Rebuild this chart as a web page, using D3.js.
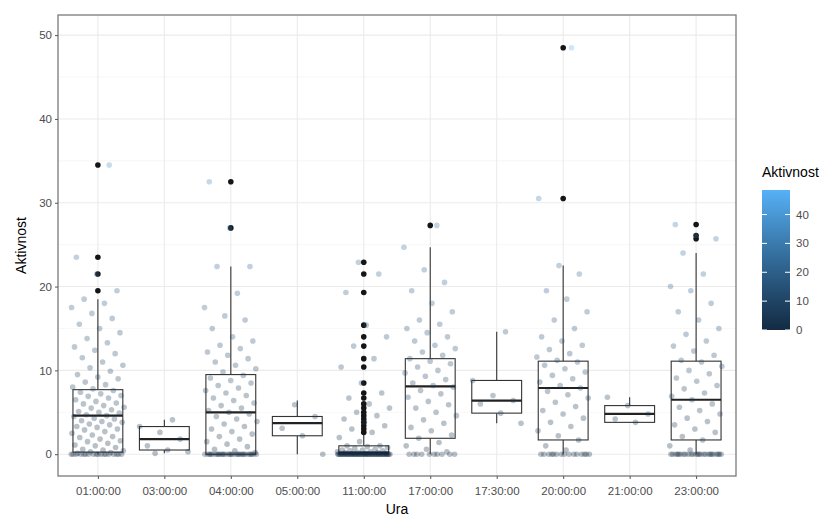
<!DOCTYPE html>
<html>
<head>
<meta charset="utf-8">
<script src="https://cdn.jsdelivr.net/npm/d3@7"></script>
<style>
  body { margin: 0; background: #fff; }
  text { font-family: "Liberation Sans", Arial, sans-serif; }
</style>
</head>
<body>
<div id="box-chart"></div>
<script>
// categories on the x axis
const categories = ["01:00:00", "03:00:00", "04:00:00", "05:00:00", "11:00:00",
                    "17:00:00", "17:30:00", "20:00:00", "21:00:00", "23:00:00"];

// box statistics
const lowerWhisker = [0, 0.1, 0, 0, 0, 0, 3.7, 0, 3.8, 0];
const q1 = [0.25, 0.5, 0, 2.2, 0, 1.9, 4.9, 1.7, 3.8, 1.7];
const medians = [4.6, 1.8, 5.0, 3.7, 0.2, 8.1, 6.4, 7.9, 4.8, 6.5];
const q3 = [7.7, 3.3, 9.5, 4.5, 1.0, 11.4, 8.8, 11.1, 5.8, 11.1];
const upperWhisker = [18.5, 4.1, 22.4, 6.4, 2.4, 24.7, 14.6, 22.5, 6.8, 24.0];

const outliers = [
  [19.5, 21.5, 23.5, 34.5],
  [],
  [27.0, 32.5],
  [],
  [2.6, 3.0, 3.4, 3.8, 4.2, 4.6, 5.0, 5.5, 6.0, 6.7, 7.3, 8.5, 10.4, 11.4, 12.9, 14.0, 15.4, 19.3, 21.5, 22.9],
  [27.3],
  [],
  [30.5, 48.5],
  [],
  [25.7, 26.1, 27.4]
];

// raw observations (jittered layer): count of zero values + the other values
const zeroCounts = [18, 0, 28, 0, 55, 10, 0, 15, 0, 25];
const observations = [
  [0.1, 0.2, 0.3, 0.4, 0.5, 0.6, 0.8, 1.0, 1.1, 1.3, 1.5, 1.6, 1.8, 2.0, 2.1, 2.3, 2.5, 2.7, 2.9, 3.0,
   3.2, 3.3, 3.5, 3.6, 3.8, 3.9, 4.0, 4.2, 4.3, 4.5, 4.6, 4.7, 4.9, 5.0, 5.1, 5.3, 5.5, 5.6, 5.8, 6.0,
   6.1, 6.3, 6.5, 6.7, 6.9, 7.0, 7.2, 7.4, 7.6, 7.8, 8.0, 8.3, 8.6, 9.0, 9.2, 9.5, 9.9, 10.3, 10.6, 11.0,
   11.5, 12.0, 12.4, 12.8, 13.3, 13.8, 14.5, 15.0, 15.5, 16.2, 16.8, 17.5, 18.0, 18.5, 19.5, 21.5, 23.5, 34.5],
  [0.1, 0.3, 0.5, 1.0, 1.8, 2.6, 3.3, 4.1],
  [0.2, 0.4, 0.6, 0.9, 1.2, 1.5, 1.8, 2.1, 2.4, 2.7, 3.0, 3.3, 3.6, 3.9, 4.2, 4.5, 4.8, 5.0, 5.2, 5.5,
   5.8, 6.1, 6.4, 6.7, 7.0, 7.3, 7.6, 7.9, 8.2, 8.5, 8.8, 9.1, 9.4, 9.8, 10.2, 10.6, 11.0, 11.4, 11.8, 12.2,
   12.6, 13.0, 13.5, 14.0, 15.0, 16.0, 16.5, 17.5, 19.2, 22.4, 22.4, 27.0, 32.5],
  [0, 2.2, 3.1, 4.5, 5.9],
  [0.1, 0.1, 0.1, 0.2, 0.2, 0.2, 0.3, 0.3, 0.4, 0.4, 0.5, 0.5, 0.6, 0.7, 0.8, 0.9, 1.0, 1.0, 1.5, 2.0,
   2.6, 3.0, 3.4, 3.8, 4.2, 4.6, 5.0, 5.5, 6.0, 6.7, 7.3, 8.5, 10.4, 11.4, 12.9, 14.0, 15.4, 19.3, 21.5, 22.9],
  [0.3, 0.6, 1.0, 1.4, 1.9, 2.3, 2.8, 3.2, 3.7, 4.1, 4.6, 5.0, 5.5, 5.9, 6.3, 6.8, 7.2, 7.6, 8.0, 8.2,
   8.5, 8.9, 9.3, 9.7, 10.0, 10.4, 10.8, 11.1, 11.4, 11.8, 12.2, 12.6, 13.0, 13.5, 14.0, 14.5, 15.0, 15.5, 16.0, 17.0,
   18.0, 19.5, 20.5, 22.0, 24.7, 27.3],
  [3.7, 4.9, 6.0, 6.4, 7.0, 8.8, 14.6],
  [0.5, 1.0, 1.7, 2.2, 2.8, 3.3, 3.8, 4.3, 4.8, 5.2, 5.7, 6.2, 6.7, 7.1, 7.5, 7.9, 8.2, 8.6, 9.0, 9.4,
   9.8, 10.2, 10.6, 11.0, 11.2, 11.6, 12.0, 12.5, 13.0, 13.5, 14.0, 15.0, 16.0, 17.0, 18.5, 19.5, 21.5, 22.5, 30.5, 48.5],
  [3.8, 4.2, 4.8, 5.8, 6.8],
  [0.5, 1.0, 1.7, 2.1, 2.6, 3.0, 3.5, 3.9, 4.3, 4.8, 5.2, 5.6, 6.0, 6.5, 6.9, 7.3, 7.8, 8.2, 8.7, 9.1,
   9.6, 10.0, 10.5, 11.0, 11.2, 11.8, 12.3, 12.9, 13.5, 14.3, 15.0, 16.0, 17.0, 18.0, 19.5, 20.0, 21.5, 24.0, 25.7, 26.1, 27.4]
];

const yTicks = [0, 10, 20, 30, 40, 50];
const legendTicks = [0, 10, 20, 30, 40];

(function boxplot() {
  let height = 518,
      width = 833,
      margin = ({ top: 15, right: 97, bottom: 42, left: 58 });

  const svg = d3.select("#box-chart")
      .append("svg")
      .attr("width", width)
      .attr("height", height);

  const x = d3.scalePoint()
      .domain(categories)
      .range([margin.left, width - margin.right])
      .padding(0.6);

  const y = d3.scaleLinear()
      .domain([-2.6, 52.4])
      .range([height - margin.bottom, margin.top]);

  const step = x.step();
  const boxW = step * 0.75;

  const colour = d3.scaleLinear()
      .domain([0, 48.5])
      .range(["#132B43", "#56B1F7"])
      .interpolate(d3.interpolateLab);

  // grid
  const grid = svg.append("g");
  grid.selectAll(".minor")
    .data([5, 15, 25, 35, 45])
    .join("line")
      .attr("x1", margin.left).attr("x2", width - margin.right)
      .attr("y1", d => y(d)).attr("y2", d => y(d))
      .attr("stroke", "#f2f2f2").attr("stroke-width", 0.6);
  grid.selectAll(".major-y")
    .data(yTicks)
    .join("line")
      .attr("x1", margin.left).attr("x2", width - margin.right)
      .attr("y1", d => y(d)).attr("y2", d => y(d))
      .attr("stroke", "#ebebeb").attr("stroke-width", 1.1);
  grid.selectAll(".major-x")
    .data(categories)
    .join("line")
      .attr("x1", d => x(d)).attr("x2", d => x(d))
      .attr("y1", margin.top).attr("y2", height - margin.bottom)
      .attr("stroke", "#ebebeb").attr("stroke-width", 1.1);

  // boxes
  const boxes = svg.append("g")
    .selectAll("g")
    .data(categories)
    .join("g")
      .attr("transform", d => `translate(${x(d)},0)`);

  boxes.append("line")
      .attr("y1", (d, i) => y(upperWhisker[i])).attr("y2", (d, i) => y(q3[i]))
      .attr("stroke", "#333").attr("stroke-width", 1.1);
  boxes.append("line")
      .attr("y1", (d, i) => y(q1[i])).attr("y2", (d, i) => y(lowerWhisker[i]))
      .attr("stroke", "#333").attr("stroke-width", 1.1);
  boxes.append("rect")
      .attr("x", -boxW / 2).attr("width", boxW)
      .attr("y", (d, i) => y(q3[i]))
      .attr("height", (d, i) => y(q1[i]) - y(q3[i]))
      .attr("fill", "#fff").attr("stroke", "#333").attr("stroke-width", 1.1);
  boxes.append("line")
      .attr("x1", -boxW / 2).attr("x2", boxW / 2)
      .attr("y1", (d, i) => y(medians[i])).attr("y2", (d, i) => y(medians[i]))
      .attr("stroke", "#222").attr("stroke-width", 2.2);
  boxes.selectAll(".outlier")
    .data((d, i) => outliers[i])
    .join("circle")
      .attr("class", "outlier")
      .attr("cy", v => y(v))
      .attr("r", 2.8)
      .attr("fill", "#151515");

  // jittered observations
  const points = [];
  categories.forEach((c, i) => {
    const vals = d3.range(zeroCounts[i]).map(() => 0).concat(observations[i]);
    vals.forEach((v, k) => points.push({ cat: c, value: v, k: k + i * 7 }));
  });

  svg.append("g")
    .selectAll("circle")
    .data(points)
    .join("circle")
      .attr("cx", d => x(d.cat) + (((d.k * 0.618034) % 1) - 0.5) * 0.8 * step)
      .attr("cy", d => y(d.value))
      .attr("r", 2.8)
      .attr("fill", d => colour(d.value))
      .attr("fill-opacity", 0.3);

  // panel border
  svg.append("rect")
      .attr("x", margin.left).attr("y", margin.top)
      .attr("width", width - margin.left - margin.right)
      .attr("height", height - margin.top - margin.bottom)
      .attr("fill", "none").attr("stroke", "#7a7a7a").attr("stroke-width", 1.3);

  // axes
  const yAxis = svg.append("g")
      .attr("transform", `translate(${margin.left},0)`)
      .call(d3.axisLeft(y).tickValues(yTicks).tickSize(3).tickPadding(3));
  const xAxis = svg.append("g")
      .attr("transform", `translate(0,${height - margin.bottom})`)
      .call(d3.axisBottom(x).tickSize(3).tickPadding(8));
  [yAxis, xAxis].forEach(a => {
    a.select(".domain").remove();
    a.selectAll("line").attr("stroke", "#555");
    a.selectAll("text").attr("fill", "#4d4d4d").style("font-size", "11.5px")
      .style("font-family", "'Liberation Sans', Arial, sans-serif");
  });

  svg.append("text")
      .attr("x", (margin.left + width - margin.right) / 2)
      .attr("y", 514)
      .attr("text-anchor", "middle")
      .style("font-size", "14px")
      .text("Ura");

  svg.append("text")
      .attr("transform", `translate(26,${(margin.top + height - margin.bottom) / 2}) rotate(-90)`)
      .attr("text-anchor", "middle")
      .style("font-size", "14px")
      .text("Aktivnost");

  // colour bar legend
  const lg = svg.append("g");
  const ly = d3.scaleLinear().domain([0, 48.5]).range([330, 190]);
  const grad = svg.append("defs").append("linearGradient")
      .attr("id", "grad")
      .attr("x1", 0).attr("x2", 0).attr("y1", 1).attr("y2", 0);
  grad.selectAll("stop")
    .data(d3.range(0, 1.01, 0.1))
    .join("stop")
      .attr("offset", t => t)
      .attr("stop-color", t => colour(t * 48.5));

  lg.append("text")
      .attr("x", 762).attr("y", 177)
      .style("font-size", "14px")
      .text("Aktivnost");
  lg.append("rect")
      .attr("x", 762).attr("y", ly(48.5))
      .attr("width", 28).attr("height", ly(0) - ly(48.5))
      .attr("fill", "url(#grad)");
  lg.selectAll(".tl")
    .data(legendTicks)
    .join("path")
      .attr("d", d => `M762,${ly(d)}h5M785,${ly(d)}h5`)
      .attr("stroke", "#fff").attr("stroke-width", 1);
  lg.selectAll(".lab")
    .data(legendTicks)
    .join("text")
      .attr("x", 796).attr("y", d => ly(d))
      .attr("dy", "0.35em")
      .attr("fill", "#4d4d4d")
      .style("font-size", "11.5px")
      .text(d => d);
})();
</script>
